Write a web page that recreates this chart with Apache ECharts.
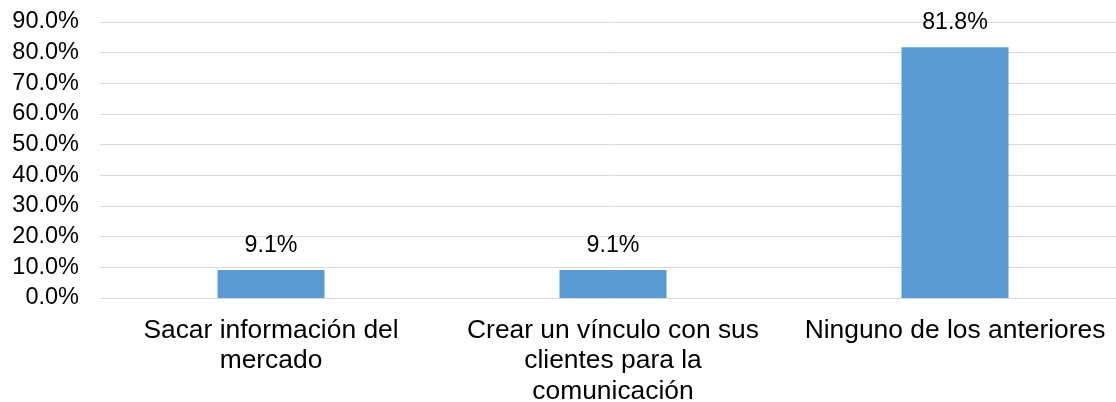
<!DOCTYPE html>
<html>
<head>
<meta charset="utf-8">
<script src="https://cdn.jsdelivr.net/npm/echarts@6/dist/echarts.min.js"></script>
<style>
html,body{margin:0;padding:0;background:#fff;overflow:hidden;width:100%;height:100%;}
#c{width:1116px;height:402px;}
</style>
</head>
<body>
<div id="c"></div>
<script>
const categories = ["Sacar información del\nmercado", "Crear un vínculo con sus\nclientes para la\ncomunicación", "Ninguno de los anteriores"];
const values = [9.1, 9.1, 81.8];
const yMin = 0, yMax = 90, yStep = 10;

const FONT = '"Liberation Sans", Arial, sans-serif';
const chart = echarts.init(document.getElementById('c'), null, {renderer: 'canvas'});
chart.setOption({
  animation: false,
  backgroundColor: '#ffffff',
  grid: {left: 100, top: 22, width: 1026, height: 276, containLabel: false, outerBoundsMode: 'none'},
  xAxis: {
    type: 'category',
    data: categories,
    axisLine: {show: false},
    axisTick: {show: false},
    axisLabel: {
      interval: 0,
      color: '#000',
      fontFamily: FONT,
      fontSize: 26.4,
      lineHeight: 30.5,
      margin: 17
    }
  },
  yAxis: {
    type: 'value',
    min: yMin, max: yMax, interval: yStep,
    axisLine: {show: false},
    axisTick: {show: false},
    splitLine: {lineStyle: {color: '#d9d9d9', width: 1}},
    axisLabel: {
      color: '#000',
      fontFamily: FONT,
      fontSize: 23.5,
      margin: 21,
      formatter: v => v.toFixed(1) + '%'
    }
  },
  series: [{
    type: 'bar',
    data: values,
    barWidth: 107,
    itemStyle: {color: '#5b9bd5'},
    label: {
      show: true,
      position: 'top',
      distance: 13,
      color: '#000',
      fontFamily: FONT,
      fontSize: 23.2,
      formatter: p => p.value.toFixed(1) + '%'
    }
  }]
});
</script>
</body>
</html>
